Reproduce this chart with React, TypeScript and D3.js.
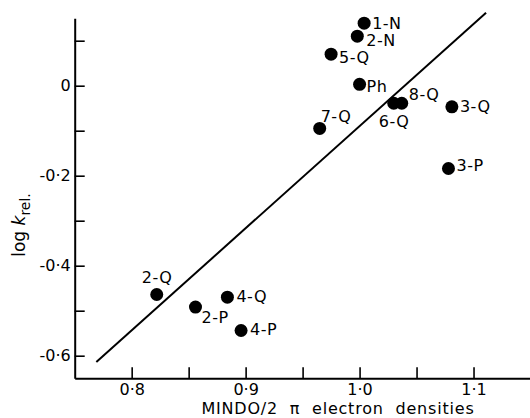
import React, { useEffect, useRef } from "react";
import * as d3 from "d3";

// compounds, pi electron density (x) and log k_rel (y)
const names = ["1-N", "2-N", "5-Q", "Ph", "8-Q", "6-Q", "7-Q", "3-Q", "3-P", "2-Q", "2-P", "4-Q", "4-P"];
const density = [1.004, 0.998, 0.975, 1.0, 1.037, 1.03, 0.965, 1.081, 1.078, 0.822, 0.856, 0.884, 0.896];
const logK = [0.139, 0.11, 0.07, 0.003, -0.039, -0.039, -0.095, -0.047, -0.184, -0.464, -0.492, -0.47, -0.544];

// regression line end points
const fitX = [0.769, 1.111];
const fitY = [-0.614, 0.162];

const xTicks = [0.8, 0.85, 0.9, 0.95, 1.0, 1.05, 1.1, 1.15];
const xLabelled = [0.8, 0.9, 1.0, 1.1];
const yTicks = [0.1, 0, -0.1, -0.2, -0.3, -0.4, -0.5, -0.6];
const yLabelled = [0, -0.2, -0.4, -0.6];

// where each label sits relative to its dot
const labelOffset: Record<string, [number, number]> = {
  "1-N": [8, 0],
  "2-N": [9, 4],
  "5-Q": [8, 3],
  Ph: [7, 2],
  "8-Q": [7, -9],
  "6-Q": [-15, 18],
  "7-Q": [1, -12],
  "3-Q": [8, 0],
  "3-P": [8, -3],
  "2-Q": [-15, -17],
  "2-P": [6, 10],
  "4-Q": [9, -1],
  "4-P": [9, -1],
};

const width = 530;
const height = 418;
const font = "'DejaVu Sans', sans-serif";

const fmt = (v: number) => {
  if (Math.abs(v) < 1e-9) return "0";
  return (v < 0 ? "-" : "") + Math.abs(v).toFixed(1).replace(".", "·");
};

export default function App() {
  const ref = useRef<SVGSVGElement>(null);

  useEffect(() => {
    const svg = d3.select(ref.current);
    svg.selectAll("*").remove();

    const x = d3.scaleLinear().domain([0.75, 1.16]).range([74.7, 541.9]);
    const y = d3.scaleLinear().domain([-0.65, 0.15]).range([378.2, 18.2]);

    const xAxis = d3
      .axisBottom(x)
      .tickValues(xTicks)
      .tickSizeInner(-11)
      .tickSizeOuter(0)
      .tickPadding(5)
      .tickFormat((d) => (xLabelled.some((v) => Math.abs(v - +d) < 1e-9) ? fmt(+d) : ""));

    const yAxis = d3
      .axisLeft(y)
      .tickValues(yTicks)
      .tickSizeInner(-10)
      .tickSizeOuter(0)
      .tickPadding(4)
      .tickFormat((d) => (yLabelled.some((v) => Math.abs(v - +d) < 1e-9) ? fmt(+d) : ""));

    const gx = svg.append("g").attr("transform", `translate(0, ${y(-0.65)})`).call(xAxis);
    const gy = svg.append("g").attr("transform", `translate(${x(0.75)}, 0)`).call(yAxis);

    [gx, gy].forEach((g) => {
      g.select(".domain").attr("stroke", "#000").attr("stroke-width", 2);
      g.selectAll(".tick line").attr("stroke", "#000").attr("stroke-width", 1.6);
      g.selectAll(".tick text")
        .attr("fill", "#000")
        .style("font-family", font)
        .style("font-size", "16px");
    });

    // fitted line
    svg
      .append("line")
      .attr("x1", x(fitX[0]))
      .attr("y1", y(fitY[0]))
      .attr("x2", x(fitX[1]))
      .attr("y2", y(fitY[1]))
      .attr("stroke", "#000")
      .attr("stroke-width", 2);

    const pts = names.map((n, i) => ({ name: n, cx: density[i], cy: logK[i] }));

    svg
      .append("g")
      .selectAll("circle")
      .data(pts)
      .enter()
      .append("circle")
      .attr("cx", (d) => x(d.cx))
      .attr("cy", (d) => y(d.cy))
      .attr("r", 6.5)
      .attr("fill", "#000");

    svg
      .append("g")
      .selectAll("text")
      .data(pts)
      .enter()
      .append("text")
      .attr("x", (d) => x(d.cx) + labelOffset[d.name][0])
      .attr("y", (d) => y(d.cy) + labelOffset[d.name][1])
      .attr("dominant-baseline", "central")
      .style("font-family", font)
      .style("font-size", "16px")
      .style("letter-spacing", "0.5px")
      .text((d) => d.name);

    // axis titles
    svg
      .append("text")
      .attr("x", 338)
      .attr("y", 414)
      .attr("text-anchor", "middle")
      .style("font-family", font)
      .style("font-size", "16px")
      .style("letter-spacing", "0.8px")
      .attr("xml:space", "preserve")
      .text("MINDO/2  π  electron  densities");

    const yt = svg
      .append("text")
      .attr("transform", "translate(25, 225) rotate(-90)")
      .attr("text-anchor", "middle")
      .style("font-family", font)
      .style("font-size", "17px");
    yt.append("tspan").text("log ");
    yt.append("tspan").style("font-style", "italic").text("k");
    yt.append("tspan").attr("dy", 5).style("font-size", "14px").text("rel.");
  }, []);

  return (
    <svg
      ref={ref}
      width={width}
      height={height}
      style={{ position: "absolute", left: 0, top: 0, background: "#fff" }}
    />
  );
}
